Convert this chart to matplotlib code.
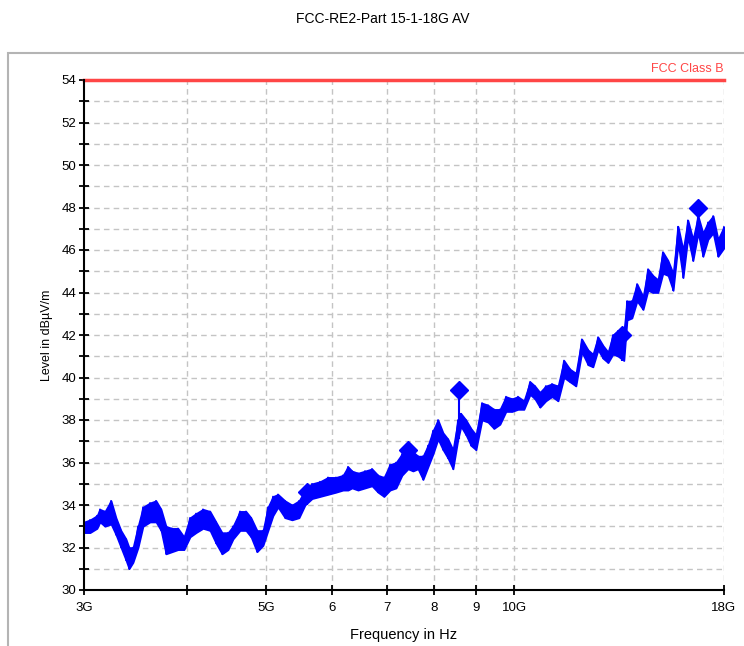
import matplotlib
matplotlib.use("Agg")
import matplotlib.pyplot as plt
import numpy as np
from matplotlib.patches import Rectangle

plt.rcParams['font.family'] = ['Liberation Sans', 'DejaVu Sans']

# trace: frequency (GHz) with upper / lower edge of the noisy band (dBuV/m)
freq = [3.000, 3.051, 3.111, 3.137, 3.181, 3.236, 3.281, 3.327, 3.374, 3.403,
        3.441, 3.490, 3.539, 3.609, 3.670, 3.722, 3.774, 3.838, 3.903, 3.969,
        4.037, 4.105, 4.186, 4.269, 4.341, 4.415, 4.490, 4.553, 4.643, 4.721,
        4.788, 4.869, 4.952, 5.021, 5.092, 5.164, 5.266, 5.371, 5.477, 5.570,
        5.680, 5.809, 5.940, 6.074, 6.195, 6.282, 6.353, 6.460, 6.588, 6.718,
        6.832, 6.948, 7.066, 7.186, 7.307, 7.431, 7.535, 7.642, 7.750, 7.859,
        7.970, 8.082, 8.196, 8.311, 8.428, 8.547, 8.619, 8.741, 8.864, 8.989,
        9.141, 9.296, 9.453, 9.613, 9.776, 9.942, 10.11, 10.28, 10.46, 10.60,
        10.75, 10.93, 11.12, 11.31, 11.50, 11.69, 11.89, 12.09, 12.30, 12.47,
        12.65, 12.83, 13.01, 13.19, 13.38, 13.60, 13.72, 13.91, 14.11, 14.35,
        14.55, 14.75, 14.96, 15.17, 15.39, 15.61, 15.83, 16.05, 16.27, 16.50,
        16.74, 16.97, 17.21, 17.46, 17.70, 18.00]
level_hi = [33.2, 33.3, 33.5, 33.8, 33.7, 34.2, 33.4, 32.8, 32.4, 32.0,
            32.0, 33.0, 33.9, 34.1, 34.2, 33.8, 33.0, 32.9, 32.9, 32.5,
            33.4, 33.6, 33.8, 33.7, 33.2, 32.7, 32.7, 33.0, 33.7, 33.7,
            33.4, 32.8, 32.8, 33.9, 34.4, 34.5, 34.2, 34.0, 34.2, 34.7,
            35.0, 35.1, 35.3, 35.3, 35.4, 35.8, 35.6, 35.5, 35.6, 35.7,
            35.4, 35.3, 35.9, 36.0, 36.4, 36.6, 36.5, 36.3, 36.3, 36.8,
            37.5, 38.0, 37.4, 37.1, 36.6, 38.0, 38.3, 38.0, 37.6, 37.3,
            38.8, 38.7, 38.5, 38.5, 39.1, 39.0, 39.1, 38.9, 39.8, 39.6,
            39.3, 39.6, 39.7, 39.6, 40.8, 40.4, 40.2, 41.8, 41.3, 41.1,
            41.9, 41.5, 41.2, 42.0, 42.2, 42.2, 43.6, 43.6, 44.4, 43.8,
            45.1, 44.8, 44.6, 45.9, 45.5, 44.9, 47.1, 46.0, 47.4, 46.5,
            47.6, 46.8, 47.3, 47.6, 46.5, 47.1]
level_lo = [32.7, 32.7, 32.9, 33.2, 33.0, 33.1, 32.6, 32.0, 31.4, 31.0,
            31.3, 32.0, 33.0, 33.2, 33.2, 32.8, 31.7, 31.8, 31.9, 31.9,
            32.5, 32.7, 32.9, 32.8, 32.2, 31.7, 31.9, 32.4, 32.8, 32.8,
            32.5, 31.8, 32.1, 32.8, 33.5, 33.9, 33.4, 33.3, 33.4, 34.0,
            34.3, 34.4, 34.5, 34.6, 34.7, 34.7, 34.8, 34.7, 34.8, 34.9,
            34.6, 34.4, 34.7, 34.8, 35.4, 35.7, 35.6, 35.7, 35.2, 35.8,
            36.4, 37.1, 36.6, 36.2, 35.7, 37.1, 37.7, 37.3, 36.8, 36.6,
            38.0, 37.9, 37.6, 37.8, 38.4, 38.4, 38.5, 38.5, 39.2, 39.0,
            38.6, 38.9, 39.1, 38.9, 40.0, 39.8, 39.6, 41.2, 40.6, 40.5,
            41.3, 40.9, 40.7, 41.1, 41.0, 40.8, 42.7, 42.8, 43.6, 43.2,
            44.1, 44.0, 44.0, 44.9, 44.8, 44.1, 46.3, 44.7, 46.6, 45.5,
            46.8, 45.7, 46.5, 46.8, 45.7, 46.1]

# peak markers
peak_freq = [5.60, 7.43, 8.57, 13.53, 16.73]
peak_level = [34.6, 36.6, 39.4, 42.0, 48.0]

limit_level = 54.0
limit_name = "FCC Class B"

xticks = [3, 4, 5, 6, 7, 8, 9, 10, 18]
xtick_labels = ["3G", "", "5G", "6", "7", "8", "9", "10G", "18G"]

fig = plt.figure(figsize=(7.44, 6.46), dpi=100)
# panel frame, runs off the right and bottom edge
fig.patches.append(Rectangle((8 / 744, -0.1), 1.2, 1.1 - 53 / 646,
                             transform=fig.transFigure, fill=False,
                             edgecolor="#b4b4b4", linewidth=1.5))
ax = fig.add_axes([84 / 744, 1 - 590 / 646, 640 / 744, 510 / 646])

# band between upper and lower edge, plus a zigzag for the noisy look
ax.fill_between(freq, level_lo, level_hi, color="#0000ff", linewidth=1.2, zorder=3)
zx = np.repeat(freq, 2)
zy = np.column_stack([level_hi, level_lo]).ravel()
ax.plot(zx, zy, color="#0000ff", linewidth=1.2, zorder=3)

for f, p in zip(peak_freq, peak_level):
    i = int(np.argmin(np.abs(np.array(freq) - f)))
    ax.vlines(f, level_lo[i], p, color="#0000ff", linewidth=1.5, zorder=3)
ax.plot(peak_freq, peak_level, "D", color="#0000ff", markersize=9, zorder=4)

ax.axhline(limit_level, color="#ff4646", linewidth=2.5, clip_on=False, zorder=5)
ax.text(18, limit_level + 0.25, limit_name, color="#ff4646", fontsize=9,
        ha="right", va="bottom")

ax.set_xscale("log")
ax.set_xlim(3, 18)
ax.set_ylim(30, 54)
ax.set_xticks(xticks)
ax.set_xticklabels(xtick_labels)
ax.xaxis.set_minor_locator(matplotlib.ticker.NullLocator())
ax.set_yticks(np.arange(30, 55, 2))
ax.set_yticks(np.arange(31, 54, 2), minor=True)

for s in ["top", "right"]:
    ax.spines[s].set_visible(False)
for s in ["left", "bottom"]:
    ax.spines[s].set_linewidth(1.5)
    ax.spines[s].set_zorder(6)

ax.tick_params(which="both", direction="inout", length=7, width=1.3, labelsize=9.5)
ax.tick_params(axis="y", pad=2)
ax.tick_params(axis="x", pad=5)

grid_kw = dict(color="#c4c4c4", linestyle=(0, (4, 3)), linewidth=1.0)
for y in range(31, 54):
    ax.axhline(y, zorder=1, **grid_kw)
for x in xticks[1:]:
    ax.axvline(x, zorder=1, **grid_kw)

ax.set_xlabel("Frequency in Hz", fontsize=10.5, labelpad=10)
ax.set_ylabel("Level in dBµV/m", fontsize=9, labelpad=6)
fig.text(383 / 744, 1 - 19 / 646, "FCC-RE2-Part 15-1-18G AV", fontsize=10,
         ha="center", va="center")

fig.savefig("out.png", dpi=100)
